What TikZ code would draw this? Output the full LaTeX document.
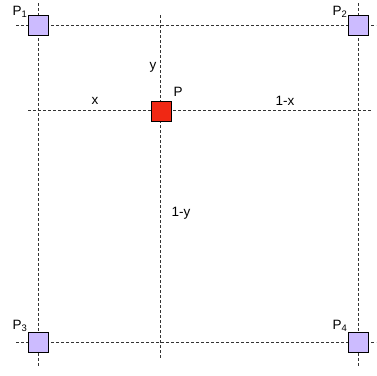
\documentclass[tikz,border=0pt]{standalone}
\usepackage{fontspec}
\setmainfont{Liberation Sans}
\begin{document}
\begin{tikzpicture}[x=1pt,y=-1pt,
  gridline/.style={draw=black!80,line width=0.9pt,dash pattern=on 3pt off 2pt},
  corner/.style={draw=black,line width=1pt,fill=cornerfill,minimum size=20pt,inner sep=0pt},
  pbox/.style={draw=black,line width=1pt,fill=pred,minimum size=20pt,inner sep=0pt},
  lbl/.style={font=\fontsize{13.5}{15}\selectfont,inner sep=0pt}]
\definecolor{cornerfill}{RGB}{204,187,255}
\definecolor{pred}{RGB}{240,40,20}
\useasboundingbox (0,0) rectangle (377,375);
% grid lines
\coordinate (t1) at (16,25); \coordinate (t2) at (376,25);
\coordinate (m1) at (28,110); \coordinate (m2) at (371,110);
\coordinate (b1) at (16,342); \coordinate (b2) at (376,342);
\coordinate (l1) at (38,3); \coordinate (l2) at (38,366);
\coordinate (c1) at (160.5,15); \coordinate (c2) at (160.5,358);
\coordinate (r1) at (358,3); \coordinate (r2) at (358,366);
\draw[gridline] (t1) -- (t2);
\draw[gridline] (m1) -- (m2);
\draw[gridline] (b1) -- (b2);
\draw[gridline] (l1) -- (l2);
\draw[gridline] (c1) -- (c2);
\draw[gridline] (r1) -- (r2);
% squares
\node[corner] (p1) at (38,25) {};
\node[corner] (p2) at (358,25) {};
\node[corner] (p3) at (38,342) {};
\node[corner] (p4) at (358,342) {};
\node[pbox] (p) at (161,111) {};
% labels
\node[lbl] (lp1) at (20,12) {P\textsubscript{1}};
\node[lbl] (lp2) at (340,12) {P\textsubscript{2}};
\node[lbl] (lp3) at (20,326) {P\textsubscript{3}};
\node[lbl] (lp4) at (340,326) {P\textsubscript{4}};
\node[lbl] (lp) at (178,92) {P};
\node[lbl] (lx) at (95,101) {x};
\node[lbl] (ly) at (153,67) {y};
\node[lbl] (l1x) at (285,101) {1-x};
\node[lbl] (l1y) at (181,213) {1-y};
\end{tikzpicture}
\end{document}
